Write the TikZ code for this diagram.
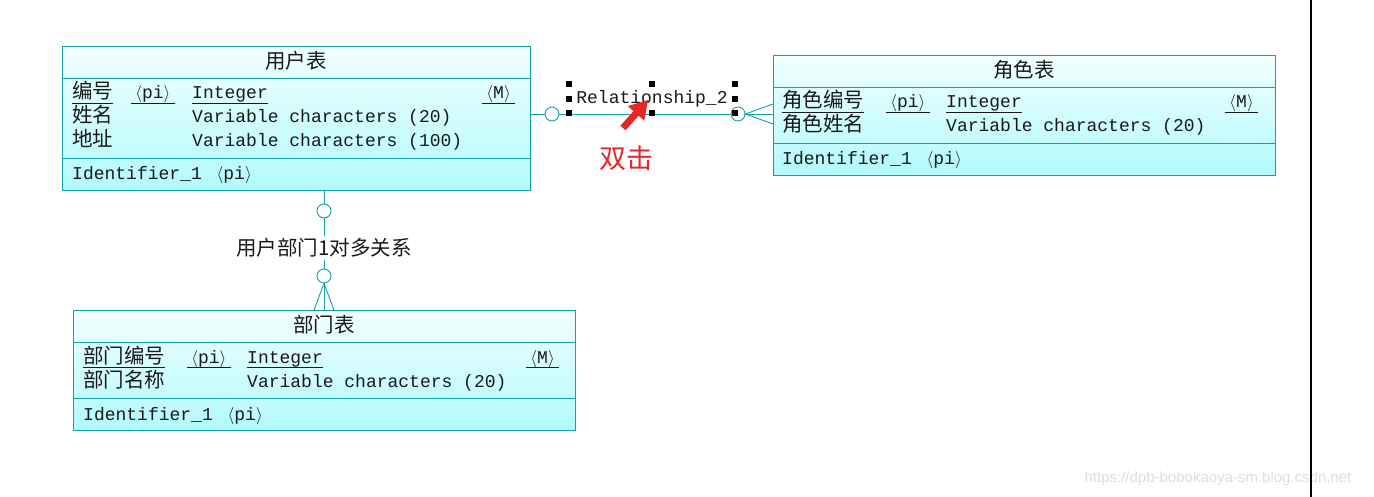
\documentclass[tikz,border=0pt]{standalone}
\usepackage{fontspec}
\setsansfont{Liberation Sans}
\newfontfamily\mono{Liberation Mono}
\newfontfamily\cjk{Noto Sans CJK SC}
\definecolor{tealb}{RGB}{22,160,168}
\definecolor{etop}{RGB}{242,255,255}
\definecolor{ebot}{RGB}{178,250,252}
\definecolor{ink}{RGB}{25,25,25}
\definecolor{hint}{RGB}{232,38,42}
\definecolor{wm}{RGB}{222,222,222}
\newcommand\myla{\makebox[10.8pt][r]{$\langle$}}
\newcommand\myra{\makebox[10.8pt][l]{$\rangle$}}
\tikzset{
  entity/.style={rectangle, draw=tealb, line width=0.9pt, top color=etop, bottom color=ebot, inner sep=0pt, outer sep=0pt},
  sect/.style={draw=tealb, line width=0.9pt},
  conn/.style={draw=tealb, line width=0.9pt},
  card/.style={circle, draw=tealb, fill=white, line width=0.9pt, minimum size=14pt, inner sep=0pt},
  mt/.style={anchor=base west, inner sep=0pt, text=ink, font=\mono\fontsize{18}{20}\selectfont},
  ct/.style={anchor=base west, inner sep=0pt, text=ink, font=\cjk\fontsize{20.5}{22}\selectfont},
  ttl/.style={anchor=center, inner sep=0pt, text=ink, font=\cjk\fontsize{20.5}{22}\selectfont},
  ul/.style={draw=ink, line width=0.8pt},
  handle/.style={rectangle, fill=black, minimum size=6pt, inner sep=0pt},
}
\begin{document}
\begin{tikzpicture}[x=1pt,y=-1pt]
\useasboundingbox (0,0) rectangle (1374,497);
\fill[white] (0,0) rectangle (1374,497);

% named anchor coordinates for connectors
\coordinate (relc) at (652,114);
\coordinate (vc) at (324,250);
\coordinate (rf1) at (773,104);
\coordinate (rf2) at (773,124);
\coordinate (df1) at (314,310);
\coordinate (df2) at (334,310);

% entity boxes (bodies)
\node[entity, minimum width=468pt, minimum height=144pt] (user) at (296,118) {};
\node[entity, minimum width=502pt, minimum height=120pt] (role) at (1024,115) {};
\node[entity, minimum width=502pt, minimum height=120pt] (dept) at (324,370) {};

% section lines
\draw[sect] ([yshift=-32pt]user.north west) -- ([yshift=-32pt]user.north east);
\draw[sect] ([yshift=32pt]user.south west) -- ([yshift=32pt]user.south east);
\draw[sect] ([yshift=-32pt]role.north west) -- ([yshift=-32pt]role.north east);
\draw[sect] ([yshift=32pt]role.south west) -- ([yshift=32pt]role.south east);
\draw[sect] ([yshift=-32pt]dept.north west) -- ([yshift=-32pt]dept.north east);
\draw[sect] ([yshift=32pt]dept.south west) -- ([yshift=32pt]dept.south east);

% relationship user - role
\draw[conn] (user.east |- relc) -- (role.west |- relc);
\node[card] (c1) at (552,114) {};
\node[card] (c2) at (738,114) {};
\draw[conn] (c2.east) -- (rf1);
\draw[conn] (c2.east) -- (rf2);

% relationship user - dept
\draw[conn] (user.south -| vc) -- (dept.north -| vc);
\node[card] (c3) at (324,211) {};
\node[card] (c4) at (324,276) {};
\draw[conn] (c4.south) -- (df1);
\draw[conn] (c4.south) -- (df2);
\node[fill=white, inner sep=2pt, text=ink, font=\cjk\fontsize{20.5}{22}\selectfont] (rl2) at (324,248) {用户部门1对多关系};

% Relationship_2 label and selection handles
\node[mt, anchor=base] (rl1) at (652,104) {Relationship\_2};
\node[handle] (h1) at (569,84) {};
\node[handle] (h2) at (652,84) {};
\node[handle] (h3) at (735,84) {};
\node[handle] (h4) at (569,99) {};
\node[handle] (h5) at (735,99) {};
\node[handle] (h6) at (569,113) {};
\node[handle] (h7) at (652,113) {};
\node[handle] (h8) at (735,113) {};

% user table text
\node[ttl] (ut) at (296,61) {用户表};
\node[ct] (u1a) at (72,99) {编号};
\node[mt] (u1b) at (131,99) {\myla pi\myra};
\node[mt] (u1c) at (192,99) {Integer};
\node[mt, anchor=base east] (u1d) at (515,99) {\myla M\myra};
\node[ct] (u2a) at (72,123) {姓名};
\node[mt] (u2c) at (192,123) {Variable characters (20)};
\node[ct] (u3a) at (72,147) {地址};
\node[mt] (u3c) at (192,147) {Variable characters (100)};
\node[mt] (u4) at (72,180) {Identifier\_1 \myla pi\myra};

% role table text
\node[ttl] (rt) at (1024,70) {角色表};
\node[ct] (r1a) at (782,108) {角色编号};
\node[mt] (r1b) at (886,108) {\myla pi\myra};
\node[mt] (r1c) at (946,108) {Integer};
\node[mt, anchor=base east] (r1d) at (1258,108) {\myla M\myra};
\node[ct] (r2a) at (782,132) {角色姓名};
\node[mt] (r2c) at (946,132) {Variable characters (20)};
\node[mt] (r4) at (782,165) {Identifier\_1 \myla pi\myra};

% dept table text
\node[ttl] (dt) at (324,325) {部门表};
\node[ct] (d1a) at (83,363) {部门编号};
\node[mt] (d1b) at (187,363) {\myla pi\myra};
\node[mt] (d1c) at (247,363) {Integer};
\node[mt, anchor=base east] (d1d) at (559,363) {\myla M\myra};
\node[ct] (d2a) at (83,387) {部门名称};
\node[mt] (d2c) at (247,387) {Variable characters (20)};
\node[mt] (d4) at (83,420) {Identifier\_1 \myla pi\myra};

% underlines of the key rows
\foreach \n in {u1a,u1b,u1c,u1d,r1a,r1b,r1c,r1d,d1a,d1b,d1c,d1d}
  \draw[ul] ([yshift=-4pt]\n.base west) -- ([yshift=-4pt]\n.base east);

% red cursor arrow and hint
\fill[hint] (648,100) -- (644.2,120.7) -- (638.6,115.7) -- (625.6,130.3)
  -- (620.4,125.7) -- (633.4,111.1) -- (627.8,106.1) -- cycle;
\node[text=hint, inner sep=0pt, font=\cjk\fontsize{27}{30}\selectfont] (hint) at (626,158) {双击};

% watermark and page border line
\node[text=wm, inner sep=0pt, font=\sffamily\fontsize{15}{16}\selectfont] (wmk) at (1218,479) {https://dpb-bobokaoya-sm.blog.csdn.net};
\coordinate (pt) at (1311,0);
\coordinate (pb) at (1311,497);
\draw[black, line width=1.4pt] (pt) -- (pb);
\end{tikzpicture}
\end{document}
